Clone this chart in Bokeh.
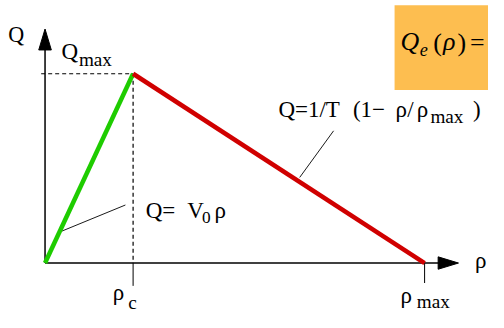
from bokeh.plotting import figure
from bokeh.models import Range1d
from bokeh.core.properties import value
from bokeh.embed import file_html
from bokeh.resources import INLINE

# ---- data (fundamental diagram: flow Q vs density rho) ----
rho_c = 0.232
rho_max = 1.0
q_max = 1.0

green_rho = [0.0, rho_c]      # free flow  Q = V0 rho
green_q = [0.0, q_max]
red_rho = [rho_c, rho_max]    # congested  Q = 1/T (1 - rho/rho_max)
red_q = [q_max, 0.0]

tick_rho = [rho_c, rho_max]

# ---- layout helpers (reference pixel -> data) ----
W, H = 488, 312
RW, RH = 504, 328
KX, KY = W / RW, H / RH
KF = 0.96                      # font scale
BASE_FIX = 0.42                # empirical baseline correction (em)
OX, OY = 46, 276
SX, SY = 392 / rho_max, 199 / q_max


def X(px):
    return (px - OX) / SX


def Y(py):
    return (OY - py) / SY


p = figure(width=W, height=H, output_backend="svg", toolbar_location=None,
           x_range=Range1d(X(0), X(RW)), y_range=Range1d(Y(RH), Y(0)),
           min_border=0, background_fill_color="white", border_fill_color="white")
p.xaxis.visible = False
p.yaxis.visible = False
p.grid.visible = False
p.outline_line_color = None

FONT = value("Liberation Serif")

# orange formula box
p.quad(left=[X(407)], right=[X(510)], top=[Y(5)], bottom=[Y(94)],
       fill_color="#fdbe50", line_color=None)

# dashed guides
p.line([X(42), rho_c], [q_max, q_max], line_color="black", line_width=1.2, line_dash="4 3")
p.line([rho_c, rho_c], [q_max, 0.0], line_color="black", line_width=1.2, line_dash="4 3")

# axes with arrow heads
p.line([0.0, X(455)], [0.0, 0.0], line_color="black", line_width=1.5)
p.patch([X(452), X(473), X(452)], [Y(269.5), Y(276), Y(282.5)], fill_color="black", line_color="black")
p.line([0.0, 0.0], [0.0, Y(50)], line_color="black", line_width=1.5)
p.patch([X(39.5), X(46), X(52.5)], [Y(52), Y(30), Y(52)], fill_color="black", line_color="black")

# ticks under the x axis
p.segment(x0=tick_rho, y0=[0.0, 0.0], x1=tick_rho, y1=[Y(300), Y(297)],
          line_color="black", line_width=1)

# leader lines
p.line([X(62), X(129)], [Y(243), Y(215)], line_color="black", line_width=0.9)
p.line([X(309), X(344)], [Y(186), Y(137)], line_color="black", line_width=0.9)

# curves
p.line(green_rho, green_q, line_color="#1ecc00", line_width=4.5)
p.line(red_rho, red_q, line_color="#d00000", line_width=4.5)


def txt(px, py, s, size, italic=False):
    fs = size * KF
    yy = py - BASE_FIX * fs / KY
    p.text(x=[X(px)], y=[Y(yy)], text=[s], text_font=FONT,
           text_font_size=f"{fs:.1f}px", text_baseline="alphabetic",
           text_align="left", text_color="black",
           text_font_style="italic" if italic else "normal")


# axis labels
txt(8, 45, "Q", 23)
txt(63, 64, "Q", 24)
txt(81, 70, "max", 20)
txt(490, 283, "ρ", 24)
txt(116, 317, "ρ", 24)
txt(132, 326, "c", 20)
txt(413, 320, "ρ", 24)
txt(430, 325, "max", 20)

# formulas
txt(287, 125, "Q=1/T", 24)
txt(364, 125, "(1−", 24)
txt(408, 125, "ρ", 24)
txt(420, 125, "/", 24)
txt(430, 125, "ρ", 24)
txt(444, 130, "max", 20)
txt(488, 125, ")", 24)

txt(150, 231, "Q=", 24)
txt(193, 231, "V", 24)
txt(208, 236, "0", 18)
txt(221, 231, "ρ", 24)

# boxed formula
txt(413, 55, "Q", 27, italic=True)
txt(433, 60, "e", 19, italic=True)
txt(447, 56, "(", 27)
txt(457, 55, "ρ", 27, italic=True)
txt(472, 56, ")", 27)
txt(485, 56, "=", 27)

open("out.html", "w").write(file_html(p, INLINE))
